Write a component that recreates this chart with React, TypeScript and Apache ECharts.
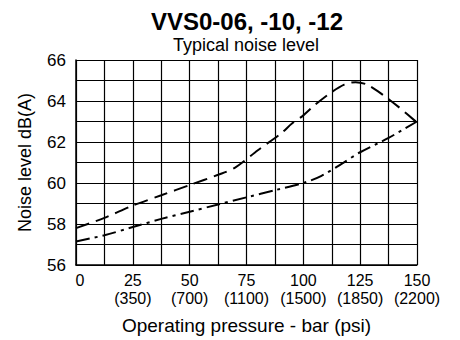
import React, { useEffect, useRef } from "react";
import * as echarts from "echarts";

const titleText = "VVS0-06, -10, -12";
const subtitleText = "Typical noise level";
const xAxisName = "Operating pressure - bar (psi)";
const yAxisName = "Noise level dB(A)";

const barTicks = [0, 25, 50, 75, 100, 125, 150];
const psiTicks = ["", "(350)", "(700)", "(1100)", "(1500)", "(1850)", "(2200)"];

// upper dashed curve: [bar, dB(A)]
const dashedSeries: [number, number][] = [
  [0, 57.8], [12.5, 58.3], [25, 58.9], [37.5, 59.4], [50, 59.9], [62.5, 60.4],
  [70, 60.75], [80, 61.6], [90, 62.4], [95, 62.9], [100, 63.3], [105, 63.8],
  [112, 64.4], [118, 64.8], [123, 64.92], [128, 64.8], [135, 64.3], [142, 63.7],
  [150, 62.95],
];

// lower dash-dot curve: [bar, dB(A)]
const dashDotSeries: [number, number][] = [
  [0, 57.15], [12.5, 57.45], [25, 57.85], [37.5, 58.25], [50, 58.6], [62.5, 58.95],
  [75, 59.3], [87.5, 59.65], [100, 60.0], [108, 60.35], [117, 60.95], [125, 61.5],
  [137.5, 62.2], [150, 63.0],
];

const FONT = "'Liberation Sans', Arial, sans-serif";

export default function App() {
  const ref = useRef<HTMLDivElement>(null);
  useEffect(() => {
    if (!ref.current) return;
    const chart = echarts.init(ref.current, null, { renderer: "svg" });
    chart.setOption({
      animation: false,
      backgroundColor: "#fff",
      textStyle: { fontFamily: FONT, color: "#000" },
      title: [
        {
          text: titleText,
          left: 242,
          top: 4,
          textAlign: "center",
          textStyle: { fontFamily: FONT, fontSize: 24, fontWeight: "bold", color: "#000" },
        },
        {
          text: subtitleText,
          left: 241,
          top: 31,
          textAlign: "center",
          textStyle: { fontFamily: FONT, fontSize: 18, fontWeight: "normal", color: "#000" },
        },
      ],
      grid: { left: 76, right: 43, top: 60, bottom: 75, containLabel: false },
      xAxis: {
        type: "value",
        min: 0,
        max: 150,
        interval: 12.5,
        name: xAxisName,
        nameLocation: "middle",
        nameGap: 51,
        nameTextStyle: { fontFamily: FONT, fontSize: 19, color: "#000" },
        axisLine: { show: true, lineStyle: { color: "#000", width: 1.5 } },
        axisTick: { show: false },
        splitLine: { show: true, lineStyle: { color: "#000", width: 1.2 } },
        axisLabel: {
          fontFamily: FONT,
          fontSize: 16,
          color: "#000",
          margin: 7,
          lineHeight: 17.5,
          formatter: (v: number) => {
            const i = barTicks.indexOf(v);
            if (i < 0) return "";
            return psiTicks[i] ? `${barTicks[i]}\n${psiTicks[i]}` : `{z|${barTicks[i]}}`;
          },
          rich: {
            z: { fontFamily: FONT, fontSize: 16, color: "#000", padding: [0, 0, 0, 8], lineHeight: 17.5 },
          },
        },
      },
      yAxis: {
        type: "value",
        min: 56,
        max: 66,
        interval: 1,
        name: yAxisName,
        nameLocation: "middle",
        nameGap: 42,
        nameTextStyle: { fontFamily: FONT, fontSize: 18, color: "#000" },
        axisLine: { show: true, lineStyle: { color: "#000", width: 1.5 } },
        axisTick: { show: false },
        splitLine: { show: true, lineStyle: { color: "#000", width: 1.2 } },
        axisLabel: {
          fontFamily: FONT,
          fontSize: 17,
          color: "#000",
          margin: 10,
          formatter: (v: number) => (Math.round(v) % 2 === 0 ? `${v}` : ""),
        },
      },
      series: [
        {
          type: "line",
          data: dashedSeries,
          showSymbol: false,
          smooth: 0.3,
          lineStyle: { color: "#000", width: 2, type: [14, 7] },
        },
        {
          type: "line",
          data: dashDotSeries,
          showSymbol: false,
          smooth: 0.3,
          lineStyle: { color: "#000", width: 2, type: [14, 5, 3, 5] },
        },
      ],
    });
    return () => chart.dispose();
  }, []);
  return (
    <div
      ref={ref}
      style={{ position: "fixed", left: 0, top: 0, width: 460, height: 340 }}
    />
  );
}
